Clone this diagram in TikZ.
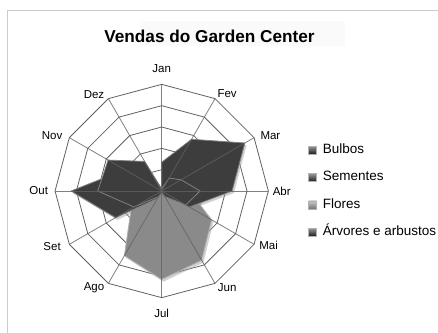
\documentclass[tikz,border=0pt]{standalone}
\usepackage{fontspec}
\setmainfont{Liberation Sans}
\usetikzlibrary{calc,positioning}

% one area of the radar: style, value for Jan, values Fev..Dez
\newcommand{\radar}[3]{%
  \draw[#1] (-90:#2*\ring) \foreach \v [count=\i] in {#3} { -- (\i*30-90:\v*\ring) } -- cycle;}
\def\ring{21.33}

\begin{document}
\begin{tikzpicture}[x=1pt,y=-1pt]
\tikzstyle{grid}=[draw=black!62,line width=0.8pt]
\tikzstyle{month}=[font=\fontsize{11.5}{13}\selectfont,inner sep=0pt]
\tikzstyle{shade}=[fill=black!40,draw=none,opacity=0.45,shift={(1.8,2.2)}]
\tikzstyle{darkarea}=[fill=black!76,draw=black!50,line width=0.8pt,line join=round]
\tikzstyle{lightarea}=[fill=black!46,draw=black!30,line width=0.8pt,line join=round]
\tikzstyle{key}=[minimum size=8pt,inner sep=0pt,draw=black!30]
\tikzstyle{keytext}=[font=\fontsize{13.5}{15}\selectfont,inner sep=0pt,text height=10pt,text depth=3pt]

\useasboundingbox (0,0) rectangle (438,332);
\draw[black!20,line width=0.8pt] (7,340) |- (445,10);

% title
\fill[black!2] (140,21) rectangle (345,46);
\node[font=\bfseries\fontsize{17.2}{20}\selectfont] (title) at (209.5,36) {Vendas do Garden Center};

\begin{scope}[shift={(161.7,191)}]
  \coordinate (c) at (0,0);
  % rings
  \foreach \k in {1,...,5}
    \draw[grid] (-90:\k*\ring) \foreach \i in {1,...,11} { -- (\i*30-90:\k*\ring) } -- cycle;

  % shadows
  \radar{shade}{0.1}{0.1,0.3,1.3,2.7,3.75,4.15,3.5,1.65,0.4,0.1,0.1}
  \radar{shade}{1.35}{2.8,4.5,3.3,1.5,0.2,0.1,0.1,0.1,0.1,0.1,0.0}
  \radar{shade}{0.1}{0.1,0.1,0.1,0.1,0.1,0.1,0.4,2.5,4.25,2.0,0.5}
  \radar{shade}{0.1}{0.7,1.05,1.8,1.3,0.3,0.1,0.3,1.5,3.0,2.9,1.6}

  % Flores
  \radar{lightarea}{0.1}{0.1,0.3,1.3,2.7,3.75,4.15,3.5,1.65,0.4,0.1,0.1}
  % Bulbos
  \radar{darkarea}{1.35}{2.8,4.5,3.3,1.5,0.2,0.1,0.1,0.1,0.1,0.1,0.0}
  % Sementes
  \radar{darkarea}{0.1}{0.1,0.1,0.1,0.1,0.1,0.1,0.4,2.5,4.25,2.0,0.5}
  % Arvores e arbustos
  \radar{darkarea}{0.1}{0.7,1.05,1.8,1.3,0.3,0.1,0.3,1.5,3.0,2.9,1.6}

  % spokes and month labels
  \foreach \m/\a/\r [count=\i from 0] in {Jan/-90/122,Fev/-56/117,Mar/-27/122,Abr/0/120,
      Mai/27/120,Jun/56/117,Jul/90/122,Ago/125/118,Set/153/123,Out/180/123,Nov/-153/123,Dez/-125/118} {
    \draw[grid,opacity=0.8] (c) -- (\i*30-90:5*\ring);
    \node[month] (\m) at (\a:\r) {\m};
  }
\end{scope}

% legend
\node[key,top color=black!40,bottom color=black!88] (kbul) at (312.5,150) {};
\node[keytext,right=6pt of kbul] (tbul) {Bulbos};
\node[key,top color=black!40,bottom color=black!88,below=19pt of kbul] (ksem) {};
\node[keytext,right=6pt of ksem] (tsem) {Sementes};
\node[key,top color=black!20,bottom color=black!55,below=19pt of ksem] (kflo) {};
\node[keytext,right=6pt of kflo] (tflo) {Flores};
\node[key,top color=black!40,bottom color=black!90,below=19pt of kflo] (karv) {};
\node[keytext,right=6pt of karv] (tarv) {Árvores e arbustos};
\end{tikzpicture}
\end{document}
